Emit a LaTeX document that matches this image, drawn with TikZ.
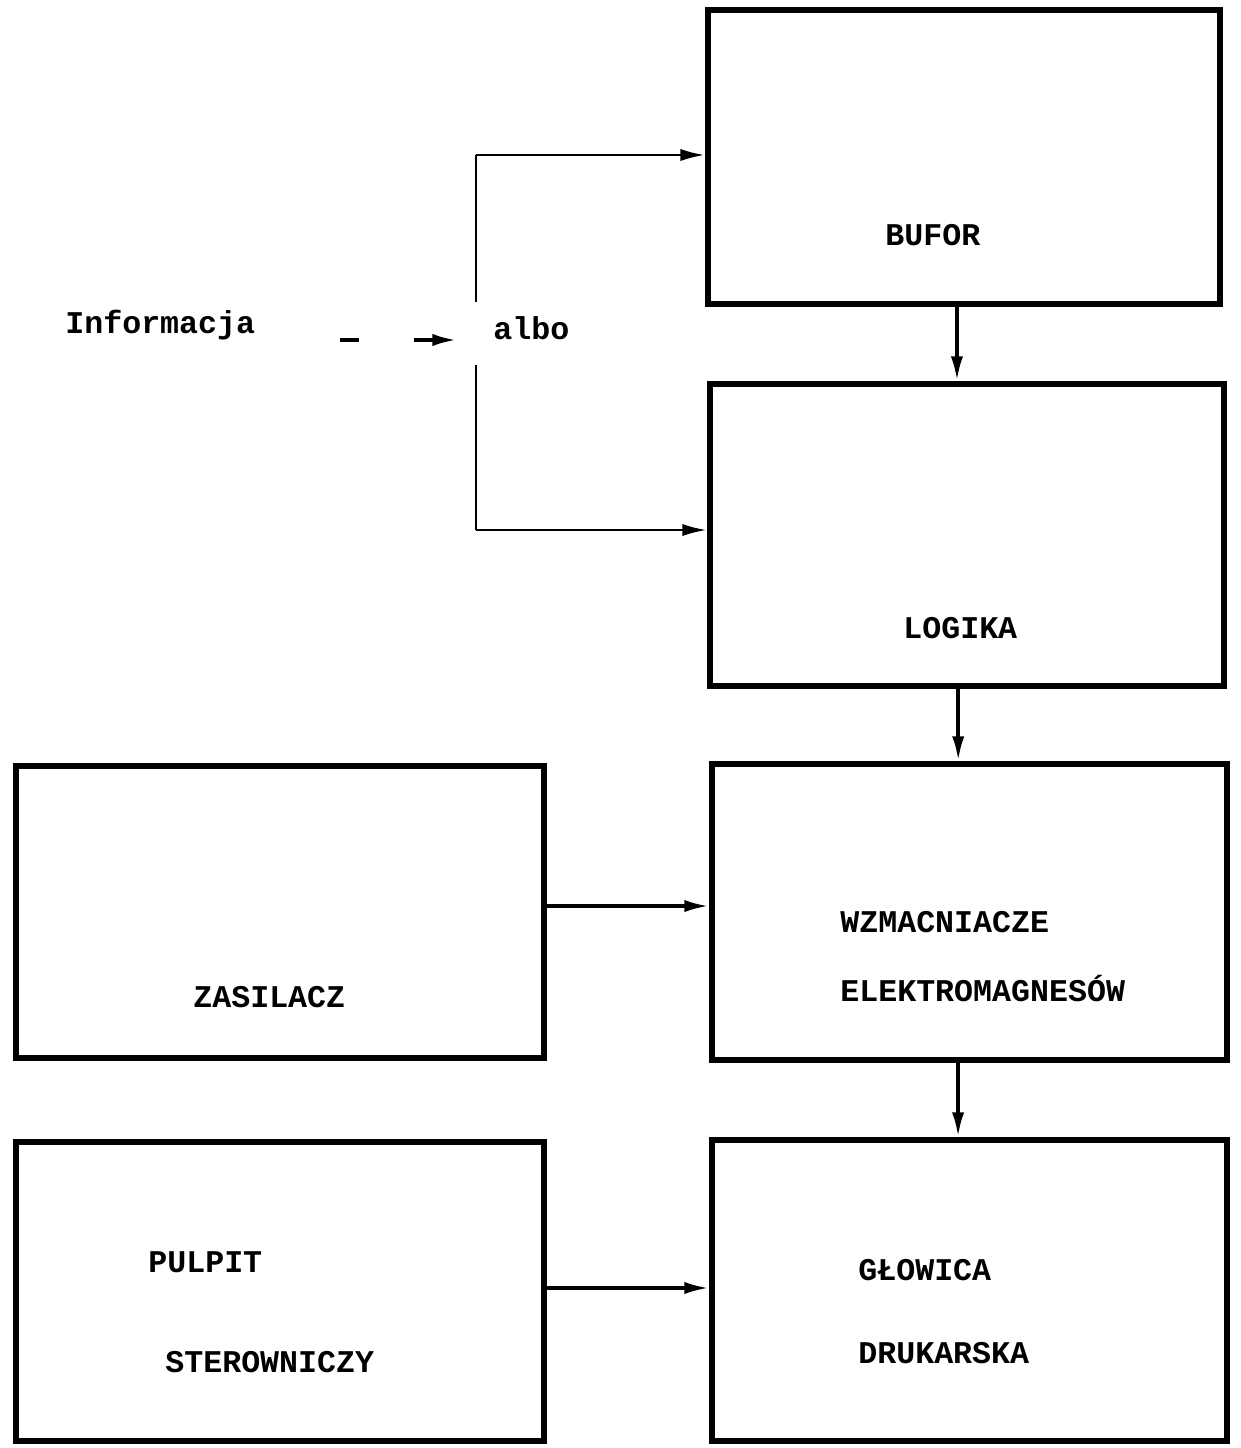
\documentclass[tikz,border=0pt]{standalone}
\usepackage{fontspec}
\setmonofont{Liberation Mono}
\usepackage{xcolor}
\usepackage{tikz}
\usetikzlibrary{arrows.meta}

\tikzset{
  blok/.style={draw, line width=3.6pt, inner sep=0pt, rectangle},
  polaczenie/.style={line width=2pt, -{Latex[length=14pt,width=7pt]}},
  cienka/.style={line width=1.6pt},
  napis/.style={font=\ttfamily\bfseries\fontsize{18}{20}\selectfont, anchor=west, inner sep=0pt},
}

\begin{document}
\begin{tikzpicture}[x=0.02cm, y=-0.02cm]
\useasboundingbox (0,0) rectangle (1241,1448);

\node[blok, minimum width=10.24cm, minimum height=5.88cm] (bufor) at (964,157) {};
\node[blok, minimum width=10.28cm, minimum height=6.04cm] (logika) at (967,535) {};
\node[blok, minimum width=10.30cm, minimum height=5.92cm] (wzm) at (969.5,912) {};
\node[blok, minimum width=10.30cm, minimum height=6.02cm] (glowica) at (969.5,1290.5) {};
\node[blok, minimum width=10.56cm, minimum height=5.84cm] (zasilacz) at (280,912) {};
\node[blok, minimum width=10.56cm, minimum height=5.98cm] (pulpit) at (280,1291.5) {};

\node[napis] (tbufor) at (885,235) {BUFOR};
\node[napis] (tlogika) at (903,628) {LOGIKA};
\node[napis] (twzm1) at (840,922) {WZMACNIACZE};
\node[napis] (twzm2) at (840,988) {ELEKTROMAGNESÓW};
\node[napis] (tglow1) at (858,1270) {GŁOWICA};
\node[napis] (tglow2) at (858,1353) {DRUKARSKA};
\node[napis] (tzas) at (193,997) {ZASILACZ};
\node[napis] (tpul1) at (148,1262) {PULPIT};
\node[napis] (tpul2) at (165,1362) {STEROWNICZY};
\node[napis] (info) at (65,325) {Informacja};
\node[napis] (albo) at (493,328) {albo};

\coordinate (rozgal1) at (476,302);
\coordinate (rozgal2) at (476,365);
\coordinate (wej1) at (476,155);
\coordinate (wej2) at (476,530);
\coordinate (kreska1) at (340,340);
\coordinate (kreska2) at (457,340);

\draw[cienka, line width=2.2pt, dash pattern=on 11pt off 31pt, -{Latex[length=14pt,width=7pt]}] (kreska1) -- (kreska2);
\draw[cienka] (rozgal1) -- (wej1);
\draw[cienka, -{Latex[length=14pt,width=7pt]}] (wej1) -- (wej1 -| bufor.west);
\draw[cienka] (rozgal2) -- (wej2);
\draw[cienka, -{Latex[length=14pt,width=7pt]}] (wej2) -- (wej2 -| logika.west);

\draw[polaczenie] ([xshift=-4pt]bufor.south) -- ([xshift=-4pt]bufor.south |- logika.north);
\draw[polaczenie] ([xshift=-5pt]logika.south) -- ([xshift=-5pt]logika.south |- wzm.north);
\draw[polaczenie] ([xshift=-6.5pt]wzm.south) -- ([xshift=-6.5pt]wzm.south |- glowica.north);
\draw[polaczenie] ([yshift=3.4pt]zasilacz.east) -- ([yshift=3.4pt]zasilacz.east -| wzm.west);
\draw[polaczenie] ([yshift=2pt]pulpit.east) -- ([yshift=2pt]pulpit.east -| glowica.west);
\end{tikzpicture}
\end{document}
